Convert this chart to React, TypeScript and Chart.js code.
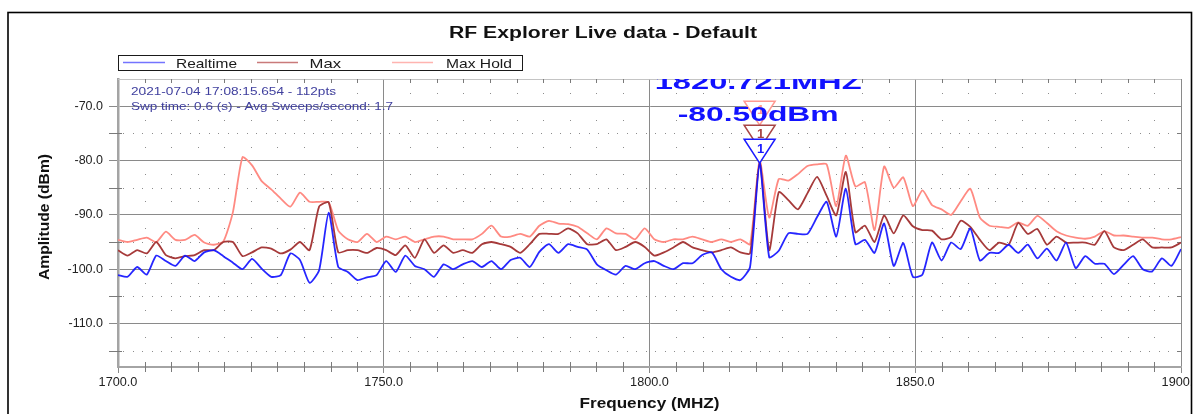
import React, { useEffect, useRef } from 'react';
import { Chart, registerables } from 'chart.js';

Chart.register(...registerables);

// ---- sweep definition ----
const SWEEP_START_MHZ = 1700;
const SWEEP_STOP_MHZ = 1900;
const SWEEP_POINTS = 112;
const frequencies: number[] = Array.from(
  { length: SWEEP_POINTS },
  (_, i) => SWEEP_START_MHZ + (i * (SWEEP_STOP_MHZ - SWEEP_START_MHZ)) / (SWEEP_POINTS - 1)
);

// ---- series values (dBm) ----
const realtime: number[] = [
  -101.1, -101.4, -99.6, -101.0, -97.5, -98.5, -99.4, -97.5, -98.5, -96.9,
  -96.5, -97.6, -98.8, -100.0, -98.1, -99.9, -101.4, -101.1, -97.1, -98.3,
  -102.5, -100.2, -89.6, -99.6, -100.5, -102.0, -101.5, -101.1, -98.5, -100.5,
  -97.5, -99.4, -100.0, -101.4, -99.1, -100.0, -99.1, -98.5, -99.6, -98.5,
  -100.0, -98.3, -97.9, -99.6, -96.8, -95.4, -97.0, -95.4, -95.9, -96.4,
  -99.1, -100.2, -101.0, -99.4, -100.0, -98.9, -98.5, -99.4, -100.0, -98.9,
  -98.9, -97.4, -96.9, -100.0, -101.4, -102.0, -99.6, -80.5, -97.8, -96.6,
  -93.4, -93.5, -93.5, -90.4, -87.6, -94.0, -85.2, -95.4, -94.6, -97.0,
  -91.6, -99.4, -95.2, -101.4, -101.0, -95.1, -98.4, -95.1, -96.3, -92.5,
  -98.4, -97.0, -97.0, -95.5, -97.0, -95.5, -98.0, -96.2, -98.4, -95.1,
  -99.8, -97.6, -99.0, -99.0, -100.9, -99.2, -97.6, -100.0, -100.4, -98.0,
  -99.4, -96.3,
];

const maxTrace: number[] = [
  -96.5, -97.5, -96.5, -97.1, -95.0, -97.4, -98.0, -97.6, -97.4, -96.5,
  -96.5, -95.0, -95.0, -97.6, -96.9, -96.0, -96.2, -97.1, -96.4, -95.0,
  -96.5, -88.5, -87.7, -96.9, -96.5, -96.5, -97.0, -96.1, -96.5, -97.4,
  -95.6, -97.9, -94.5, -97.0, -95.6, -97.0, -96.5, -97.0, -95.4, -95.0,
  -95.4, -95.9, -97.0, -95.4, -93.5, -93.5, -93.5, -92.5, -93.4, -95.4,
  -95.4, -94.5, -96.5, -95.9, -95.0, -95.9, -97.5, -96.9, -96.0, -95.0,
  -96.0, -96.5, -96.9, -96.5, -96.0, -96.9, -97.1, -80.3, -96.5, -85.8,
  -87.3, -89.0, -86.0, -83.0, -86.5, -90.1, -82.1, -93.2, -92.0, -95.0,
  -90.1, -93.4, -90.1, -92.1, -92.8, -92.9, -94.5, -94.1, -91.1, -92.2,
  -94.6, -96.5, -95.1, -95.5, -91.5, -93.5, -92.6, -95.5, -94.0, -95.1,
  -95.1, -95.1, -95.5, -93.0, -96.0, -96.5, -95.5, -94.5, -96.0, -96.0,
  -96.0, -95.1,
];

const maxHold: number[] = [
  -94.6, -95.0, -94.6, -94.2, -95.0, -93.1, -94.6, -94.6, -93.7, -95.1,
  -95.5, -94.9, -89.5, -79.4, -80.9, -83.8, -85.3, -87.0, -88.5, -85.9,
  -87.6, -87.6, -87.7, -92.9, -94.5, -95.0, -93.5, -95.0, -94.0, -94.5,
  -94.0, -95.0, -94.5, -94.0, -94.0, -94.5, -94.5, -94.5, -93.5, -92.0,
  -94.0, -94.0, -93.5, -94.0, -92.0, -91.1, -91.6, -91.7, -92.2, -93.4,
  -94.5, -92.5, -93.4, -93.5, -94.5, -92.5, -94.5, -95.0, -94.5, -94.5,
  -94.0, -94.5, -95.0, -94.5, -95.0, -94.5, -95.4, -80.0, -90.5, -83.4,
  -83.7, -82.5, -81.0, -80.7, -80.7, -88.4, -79.1, -84.8, -84.0, -92.8,
  -81.1, -85.0, -83.1, -88.4, -85.5, -88.2, -89.0, -90.0, -87.5, -85.2,
  -90.5, -92.0, -92.2, -92.4, -91.4, -92.0, -90.2, -91.5, -93.0, -93.8,
  -94.2, -94.4, -94.0, -93.0, -93.8, -93.8, -94.0, -94.2, -94.2, -94.5,
  -94.5, -94.1,
];

// ---- axes / labels ----
const yTickValues: number[] = [-110, -100, -90, -80, -70];
const xTickValues: number[] = [1700, 1750, 1800, 1850, 1900];
const seriesNames: string[] = ['Realtime', 'Max', 'Max Hold'];
const titleText = 'RF Explorer Live data - Default';
const infoLines: string[] = ['2021-07-04 17:08:15.654 - 112pts', 'Swp time: 0.6 (s) - Avg Sweeps/second: 1.7'];
const xAxisTitle = 'Frequency (MHZ)';
const yAxisTitle = 'Amplitude (dBm)';

const FONT = '"Liberation Sans", Arial, Helvetica, sans-serif';
const COLORS = ['rgba(20,20,255,0.92)', '#a63a3a', '#ff8a82'];
const LEGEND_COLORS = ['#7474ff', '#c97a7a', '#ffb4b0'];
const MARKER_COLORS = ['#1a1aff', '#a84444', '#ff9a92'];

function drawFitted(
  ctx: CanvasRenderingContext2D,
  text: string,
  x: number,
  y: number,
  font: string,
  color: string,
  width: number,
  align: 'left' | 'center',
  baseline: CanvasTextBaseline = 'alphabetic'
) {
  ctx.save();
  ctx.font = font;
  const w = ctx.measureText(text).width || 1;
  const sx = width / w;
  const left = align === 'center' ? x - width / 2 : x;
  ctx.translate(left, y);
  ctx.scale(sx, 1);
  ctx.fillStyle = color;
  ctx.textAlign = 'left';
  ctx.textBaseline = baseline;
  ctx.fillText(text, 0, 0);
  ctx.restore();
}

const decorPlugin = {
  id: 'rfDecor',
  beforeDraw(chart: any) {
    const ctx = chart.ctx as CanvasRenderingContext2D;
    ctx.save();
    ctx.fillStyle = '#ffffff';
    ctx.fillRect(0, 0, chart.width, chart.height);
    ctx.restore();
  },
  beforeDatasetsDraw(chart: any) {
    const ctx = chart.ctx as CanvasRenderingContext2D;
    const xs = chart.scales.x;
    const ys = chart.scales.y;
    const { left, right, top, bottom } = chart.chartArea;
    ctx.save();
    // top edge line
    ctx.strokeStyle = '#c4c4c4';
    ctx.lineWidth = 1;
    ctx.beginPath();
    ctx.moveTo(left, top + 0.5);
    ctx.lineTo(right, top + 0.5);
    ctx.stroke();

    // dotted minor grid
    ctx.fillStyle = '#8c8c8c';
    for (let v = -117.5; v < -65.01; v += 2.5) {
      if (Math.abs(v % 10) < 1e-6) continue;
      const py = Math.round(ys.getPixelForValue(v));
      if (Math.abs(v % 5) < 1e-6) {
        for (let px = left + 5; px < right - 2; px += 9.5) ctx.fillRect(Math.round(px), py, 1, 1);
      } else {
        for (let f = SWEEP_START_MHZ + 5; f < SWEEP_STOP_MHZ; f += 5) {
          if (f % 50 === 0) continue;
          ctx.fillRect(Math.round(xs.getPixelForValue(f)), py, 1, 1);
        }
      }
    }
    // minor ticks
    ctx.strokeStyle = '#7a7a7a';
    ctx.lineWidth = 1;
    ctx.beginPath();
    for (let f = SWEEP_START_MHZ + 5; f < SWEEP_STOP_MHZ; f += 5) {
      if (f % 50 === 0) continue;
      const px = Math.round(xs.getPixelForValue(f)) + 0.5;
      ctx.moveTo(px, bottom - 5);
      ctx.lineTo(px, bottom + 5);
      ctx.moveTo(px, top);
      ctx.lineTo(px, top + 4);
    }
    for (let v = -115; v < -65; v += 10) {
      const py = Math.round(ys.getPixelForValue(v)) + 0.5;
      ctx.moveTo(left - 9, py);
      ctx.lineTo(left + 4, py);
      ctx.moveTo(right - 4, py);
      ctx.lineTo(right, py);
    }
    ctx.stroke();
    ctx.restore();
  },
  afterDatasetsDraw(chart: any) {
    const ctx = chart.ctx as CanvasRenderingContext2D;
    const xs = chart.scales.x;
    const ys = chart.scales.y;
    const { left, right, top, bottom } = chart.chartArea;

    // info text
    drawFitted(ctx, infoLines[0], 131, 95, `11.5px ${FONT}`, '#3f3f9e', 205, 'left');
    drawFitted(ctx, infoLines[1], 131, 109.5, `11.5px ${FONT}`, '#3f3f9e', 262, 'left');

    // peak markers
    const peakIdx = realtime.indexOf(Math.max(...realtime));
    const px = xs.getPixelForValue(frequencies[peakIdx]);
    const py = ys.getPixelForValue(realtime[peakIdx]);
    const hw = 15.5;
    const tri = (apexY: number, color: string, labelBase: number) => {
      ctx.save();
      ctx.beginPath();
      ctx.moveTo(px - hw, apexY - 24);
      ctx.lineTo(px + hw, apexY - 24);
      ctx.lineTo(px, apexY);
      ctx.closePath();
      ctx.fillStyle = '#ffffff';
      ctx.fill();
      ctx.strokeStyle = color;
      ctx.lineWidth = 1.5;
      ctx.stroke();
      ctx.fillStyle = color;
      ctx.font = `bold 13px ${FONT}`;
      ctx.textAlign = 'center';
      ctx.textBaseline = 'alphabetic';
      ctx.fillText('1', px + 1, labelBase);
      ctx.restore();
    };
    tri(py - 38, MARKER_COLORS[2], py - 49);
    tri(py - 14, MARKER_COLORS[1], py - 25);
    tri(py, MARKER_COLORS[0], py - 10.5);

    ctx.save();
    ctx.beginPath();
    ctx.rect(left, top, right - left, bottom - top);
    ctx.clip();
    const freqLabel = `${frequencies[peakIdx].toFixed(3)}MHZ`;
    const ampLabel = `${realtime[peakIdx].toFixed(2)}dBm`;
    drawFitted(ctx, freqLabel, px - 1.5, 88.5, `bold 21px ${FONT}`, '#1212ff', 207, 'center');
    drawFitted(ctx, ampLabel, px - 1.5, 121, `bold 21px ${FONT}`, '#1212ff', 161, 'center');
    ctx.restore();
  },
  afterDraw(chart: any) {
    const ctx = chart.ctx as CanvasRenderingContext2D;
    const { left, right } = chart.chartArea;

    // title
    drawFitted(ctx, titleText, (449 + 757) / 2, 38, `bold 16px ${FONT}`, '#111111', 308, 'center');

    // legend box
    ctx.save();
    ctx.fillStyle = '#ffffff';
    ctx.fillRect(118, 55, 405, 16);
    ctx.strokeStyle = '#1a1a1a';
    ctx.lineWidth = 1;
    ctx.strokeRect(118.5, 55.5, 404, 15);
    const samples = [
      [123, 165, 176, 61],
      [257, 298, 309.5, 31.5],
      [392, 433, 446, 66],
    ];
    samples.forEach((s, i) => {
      ctx.strokeStyle = LEGEND_COLORS[i];
      ctx.lineWidth = 1.5;
      ctx.beginPath();
      ctx.moveTo(s[0], 62.5);
      ctx.lineTo(s[1], 62.5);
      ctx.stroke();
      drawFitted(ctx, seriesNames[i], s[2], 67.5, `13.5px ${FONT}`, '#1a1a1a', s[3], 'left');
    });
    ctx.restore();

    // axis titles
    drawFitted(ctx, xAxisTitle, (left + right) / 2, 408, `bold 14.5px ${FONT}`, '#111111', 140, 'center');
    ctx.save();
    ctx.translate(45, 217);
    ctx.rotate(-Math.PI / 2);
    drawFitted(ctx, yAxisTitle, 0, 0, `bold 14px ${FONT}`, '#111111', 126, 'center', 'middle');
    ctx.restore();

    // clip right of frame, outer frame
    ctx.save();
    ctx.fillStyle = '#ffffff';
    ctx.fillRect(1192, 0, chart.width - 1192, chart.height);
    ctx.strokeStyle = '#000000';
    ctx.lineWidth = 1.6;
    ctx.strokeRect(8, 12.5, 1183.5, 500);
    ctx.restore();
  },
};

export default function App() {
  const canvasRef = useRef<HTMLCanvasElement>(null);

  useEffect(() => {
    const canvas = canvasRef.current;
    if (!canvas) return;
    const toPoints = (vals: number[]) => vals.map((v, i) => ({ x: frequencies[i], y: v }));
    const chart = new Chart(canvas, {
      type: 'line',
      data: {
        datasets: [
          { label: seriesNames[0], data: toPoints(realtime), borderColor: COLORS[0], borderWidth: 1.8, pointRadius: 0, tension: 0.2, fill: false },
          { label: seriesNames[1], data: toPoints(maxTrace), borderColor: COLORS[1], borderWidth: 1.8, pointRadius: 0, tension: 0.2, fill: false },
          { label: seriesNames[2], data: toPoints(maxHold), borderColor: COLORS[2], borderWidth: 1.8, pointRadius: 0, tension: 0.2, fill: false },
        ],
      },
      options: {
        responsive: false,
        animation: false,
        devicePixelRatio: 1,
        events: [],
        layout: { padding: { top: 79, right: 15, left: 0, bottom: 0 } },
        plugins: {
          legend: { display: false },
          title: { display: false },
          tooltip: { enabled: false },
        },
        scales: {
          x: {
            type: 'linear',
            min: SWEEP_START_MHZ,
            max: SWEEP_STOP_MHZ,
            afterBuildTicks: (s: any) => {
              s.ticks = xTickValues.map((v) => ({ value: v }));
            },
            afterFit: (s: any) => {
              s.height = 47;
              s.paddingLeft = 0;
              s.paddingRight = 0;
            },
            ticks: {
              callback: (v: any) => Number(v).toFixed(1),
              font: { family: FONT, size: 12.7 },
              color: '#222222',
              padding: 2,
              maxRotation: 0,
              autoSkip: false,
            },
            grid: { color: '#8a8a8a', lineWidth: 1, tickLength: 6 },
            border: { color: '#a4a4a4', width: 2 },
          },
          y: {
            type: 'linear',
            min: -118,
            max: -65,
            afterBuildTicks: (s: any) => {
              s.ticks = yTickValues.map((v) => ({ value: v }));
            },
            afterFit: (s: any) => {
              s.width = 118;
            },
            ticks: {
              callback: (v: any) => Number(v).toFixed(1),
              font: { family: FONT, size: 12.5 },
              color: '#222222',
              padding: 6,
            },
            grid: { color: '#8a8a8a', lineWidth: 1, tickLength: 9 },
            border: { color: '#a4a4a4', width: 2.5 },
          },
        },
      },
      plugins: [decorPlugin],
    } as any);
    return () => chart.destroy();
  }, []);

  return (
    <div style={{ position: 'fixed', left: 0, top: 0, width: 1196, height: 414, background: '#ffffff' }}>
      <canvas ref={canvasRef} width={1196} height={414} style={{ display: 'block', width: 1196, height: 414 }} />
    </div>
  );
}
